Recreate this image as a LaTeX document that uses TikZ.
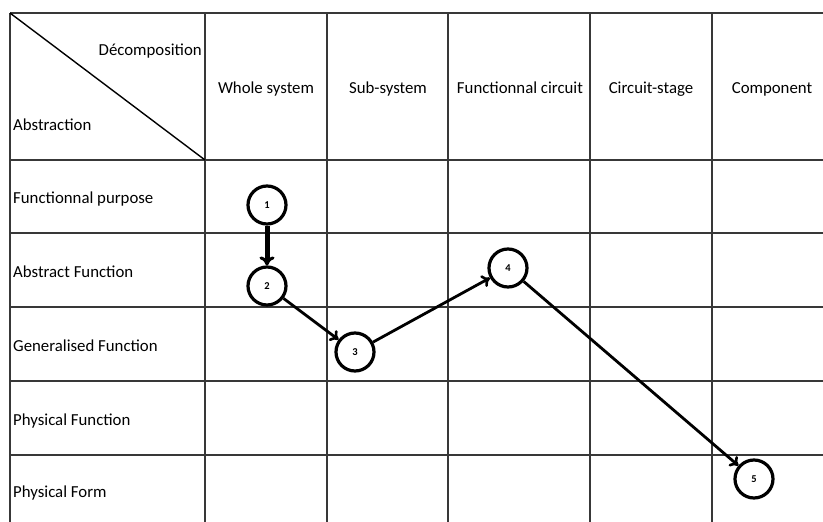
\documentclass[tikz,border=0pt]{standalone}
\usepackage{fontspec}
\setmainfont{Carlito}
\usetikzlibrary{arrows.meta}
\begin{document}
\begin{tikzpicture}[x=1pt,y=-1pt,
  grid/.style={line width=1.6pt,draw=black!78},
  lbl/.style={font=\fontsize{16.8}{19}\selectfont,inner sep=0pt,anchor=base},
  rowlbl/.style={lbl,anchor=base west},
  stepnode/.style={circle,draw,line width=3.2pt,minimum size=38pt,inner sep=0pt,font=\fontsize{10.5}{12}\selectfont\bfseries},
  link/.style={line width=2.8pt,-{To[length=8pt,width=13pt,line width=2.6pt]}}
]
\useasboundingbox (0,0) rectangle (823,522);
% grid
\draw[grid] (10,13) -- (823,13);
\foreach \y in {160,233,307,381,455}{\draw[grid] (10,\y) -- (823,\y);}
\foreach \x in {10,205,327,448,590,712}{\draw[grid] (\x,13) -- (\x,522);}
\draw[line width=1.4pt] (10,13) -- (205,160);
% headers
\node[lbl,anchor=base east] (dec) at (202,56) {Décomposition};
\node[rowlbl] (abs) at (13,130) {Abstraction};
\node[lbl] (h1) at (266,93) {Whole system};
\node[lbl] (h2) at (388,93) {Sub-system};
\node[lbl] (h3) at (520,93) {Functionnal circuit};
\node[lbl] (h4) at (651,93) {Circuit-stage};
\node[lbl] (h5) at (772,93) {Component};
% rows
\node[rowlbl] (r1) at (13,203) {Functionnal purpose};
\node[rowlbl] (r2) at (13,277) {Abstract Function};
\node[rowlbl] (r3) at (13,351) {Generalised Function};
\node[rowlbl] (r4) at (13,425) {Physical Function};
\node[rowlbl] (r5) at (13,497) {Physical Form};
% steps
\node[stepnode] (s1) at (267,205) {1};
\node[stepnode] (s2) at (267,286) {2};
\node[stepnode] (s3) at (355,352) {3};
\node[stepnode] (s4) at (508,268) {4};
\node[stepnode] (s5) at (754,479) {5};
\draw[line width=5pt,-{To[length=9pt,width=15pt,line width=3pt]}] (s1) -- (s2);
\draw[link] (s2) -- (s3);
\draw[link] (s3) -- (s4);
\draw[link] (s4) -- (s5);
\end{tikzpicture}
\end{document}
